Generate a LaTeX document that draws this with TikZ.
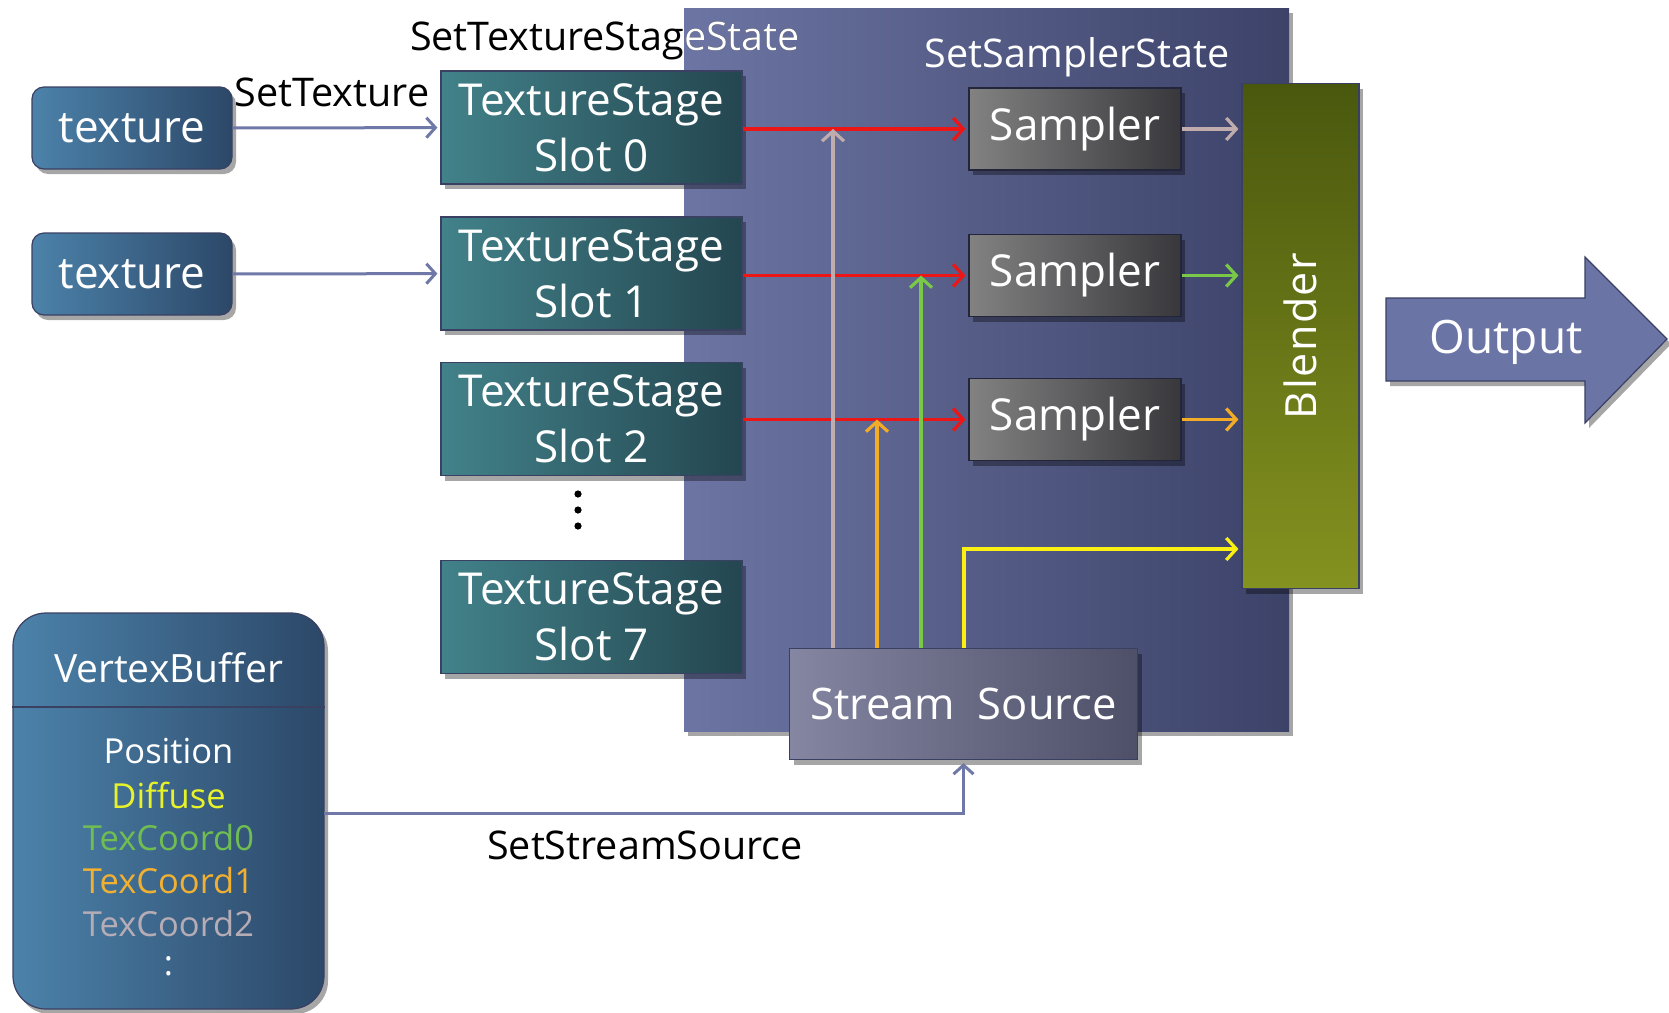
\documentclass[tikz,border=0pt]{standalone}
\usepackage{fontspec}
\setmainfont{Open Sans}
\usetikzlibrary{shadows,arrows.meta}

\definecolor{panelL}{RGB}{108,117,163}
\definecolor{panelR}{RGB}{60,66,104}
\definecolor{texL}{RGB}{76,130,170}
\definecolor{texR}{RGB}{44,72,104}
\definecolor{slotL}{RGB}{66,130,138}
\definecolor{slotR}{RGB}{36,70,80}
\definecolor{smpL}{RGB}{130,130,130}
\definecolor{smpR}{RGB}{56,56,60}
\definecolor{blendT}{RGB}{74,88,14}
\definecolor{blendB}{RGB}{132,146,32}
\definecolor{outFill}{RGB}{106,116,165}
\definecolor{edgeDark}{RGB}{58,64,98}
\definecolor{ssL}{RGB}{132,134,162}
\definecolor{ssR}{RGB}{78,80,104}
\definecolor{connCol}{RGB}{112,120,168}
\definecolor{redLine}{RGB}{236,22,22}
\definecolor{grayLine}{RGB}{192,172,172}
\definecolor{greenLine}{RGB}{122,200,72}
\definecolor{orangeLine}{RGB}{242,172,40}
\definecolor{yellowLine}{RGB}{250,240,20}
\definecolor{vbYellow}{RGB}{232,242,40}
\definecolor{vbGreen}{RGB}{112,190,82}
\definecolor{vbOrange}{RGB}{242,176,50}
\definecolor{vbGray}{RGB}{182,172,182}

\tikzset{
  shadowed/.style={drop shadow={shadow xshift=4pt,shadow yshift=-5pt,opacity=.35,fill=black}},
  box/.style={shadowed,draw=edgeDark,line width=1.2pt,inner sep=0pt,text=white,align=center},
  texbox/.style={box,rounded corners=12pt,left color=texL,right color=texR,
     minimum width=200pt,minimum height=82pt,font=\fontsize{44}{52}\selectfont},
  slotbox/.style={box,left color=slotL,right color=slotR,
     minimum width=301pt,minimum height=113pt,font=\fontsize{44}{56}\selectfont},
  smpbox/.style={box,left color=smpL,right color=smpR,draw=edgeDark!60!black,
     minimum width=212pt,minimum height=82pt,font=\fontsize{44}{52}\selectfont},
  lbl/.style={inner sep=0pt,font=\fontsize{39.5}{46}\selectfont},
  vbitem/.style={inner sep=0pt,font=\fontsize{34.5}{40}\selectfont},
  conn/.style={draw=connCol,line width=3pt,-{Straight Barb[length=9pt,width=20pt,line width=3pt]}},
  feed/.style={line width=3.4pt,-{Straight Barb[length=10pt,width=22pt,line width=3.2pt]}},
}

\begin{document}
\begin{tikzpicture}[x=1pt,y=-1pt]
\useasboundingbox (0,0) rectangle (1669,1012);

% pipeline panel
\node[shadowed,left color=panelL,right color=panelR,inner sep=0pt,
      minimum width=605pt,minimum height=723pt] (panel) at (986.5,369.5) {};

% stage-state caption: black on white, white where it crosses the panel
\node[lbl,text=black] (tssLabel) at (605,41) {SetTextureStageState};
\begin{scope}
  \clip (panel.north west) rectangle (panel.south east);
  \node[lbl,text=white] at (605,41) {SetTextureStageState};
\end{scope}
\node[lbl,text=white] (sssLabel) at (1077,57) {SetSamplerState};

% textures
\node[texbox] (tex0) at (132,128) {texture};
\node[texbox] (tex1) at (132,274) {texture};
\node[lbl,text=black] (stLabel) at (332,92) {SetTexture};

% texture stages
\node[slotbox] (slot0) at (591.5,127.5) {TextureStage\\Slot 0};
\node[slotbox] (slot1) at (591.5,273.5) {TextureStage\\Slot 1};
\node[slotbox] (slot2) at (591.5,419) {TextureStage\\Slot 2};
\node[slotbox] (slot7) at (591.5,617) {TextureStage\\Slot 7};
\foreach \yy in {494,510,526} \fill (578,\yy) circle (3.6pt);

% samplers
\node[smpbox] (smp0) at (1075,129) {Sampler};
\node[smpbox] (smp1) at (1075,275.5) {Sampler};
\node[smpbox] (smp2) at (1075,419.5) {Sampler};

% blender
\node[box,top color=blendT,bottom color=blendB,minimum width=117pt,minimum height=505pt] (blend) at (1300.5,336) {};
\node[rotate=90,text=white,font=\fontsize{43}{48}\selectfont] (blendLabel) at (blend.center)
  {B\kern1.5pt l\kern1.5pt e\kern1.5pt n\kern1.5pt d\kern1.5pt e\kern1.5pt r};

% output arrow
\fill[shadowed,fill=outFill,draw=edgeDark,line width=1.2pt]
  (1386,298) -- (1585,298) -- (1585,257) -- (1667,339) -- (1585,423) -- (1585,381) -- (1386,381) -- cycle;
\node[text=white,font=\fontsize{46}{52}\selectfont] (outLabel) at (1506,342) {Output};

% stream source
\node[box,left color=ssL,right color=ssR,minimum width=348pt,minimum height=111pt,
      font=\fontsize{43.5}{52}\selectfont] (ss) at (963.5,704) {Stream\ \ Source};

% vertex buffer
\node[box,rounded corners=33pt,left color=texL,right color=texR,minimum width=311pt,minimum height=396pt] (vb) at (168.5,811) {};
\draw[edgeDark,line width=2pt] (vb.west |- 0,707) -- (vb.east |- 0,707);
\node[inner sep=0pt,text=white,font=\fontsize{39}{46}\selectfont] (vbHead) at (168.5,668) {VertexBuffer};
\node[vbitem,text=white]   (vbPos) at (168.5,751) {Position};
\node[vbitem,text=vbYellow] (vbDif) at (168.5,795) {Diffuse};
\node[vbitem,text=vbGreen]  (vbT0)  at (168.5,838) {TexCoord0};
\node[vbitem,text=vbOrange] (vbT1)  at (168.5,881) {TexCoord1};
\node[vbitem,text=vbGray]   (vbT2)  at (168.5,924) {TexCoord2};
\node[vbitem,text=white]    (vbMore) at (168.5,966) {:};

% texture -> stage
\draw[conn,shorten >=3pt] (tex0) -- (slot0);
\draw[conn,shorten >=3pt] (tex1) -- (slot1);

% stage -> sampler
\draw[feed,redLine,shorten >=3pt] (slot0.east |- smp0) -- (smp0.west);
\draw[feed,redLine,shorten >=3pt] (slot1.east |- smp1) -- (smp1.west);
\draw[feed,redLine,shorten >=3pt] (slot2.east |- smp2) -- (smp2.west);

% stream source feeds
\coordinate (gTip) at (833,129);
\coordinate (oTip) at (877,419.5);
\coordinate (nTip) at (921,275.5);
\coordinate (yBend) at (964,549);
\draw[feed,grayLine]   (ss.north -| gTip) -- (gTip);
\draw[feed,orangeLine] (ss.north -| oTip) -- (oTip);
\draw[feed,greenLine]  (ss.north -| nTip) -- (nTip);
\draw[feed,yellowLine,shorten >=3pt] (ss.north -| yBend) -- (yBend) -- (yBend -| blend.west);

% sampler -> blender
\draw[feed,grayLine,shorten >=3pt]   (smp0.east) -- (smp0.east -| blend.west);
\draw[feed,greenLine,shorten >=3pt]  (smp1.east) -- (smp1.east -| blend.west);
\draw[feed,orangeLine,shorten >=3pt] (smp2.east) -- (smp2.east -| blend.west);

% vertex buffer -> stream source
\coordinate (vbOut) at (324,813);
\draw[conn,shorten >=3pt] (vbOut) -| (ss.south);
\node[lbl,text=black] (sssrcLabel) at (645,845) {SetStreamSource};
\end{tikzpicture}
\end{document}
